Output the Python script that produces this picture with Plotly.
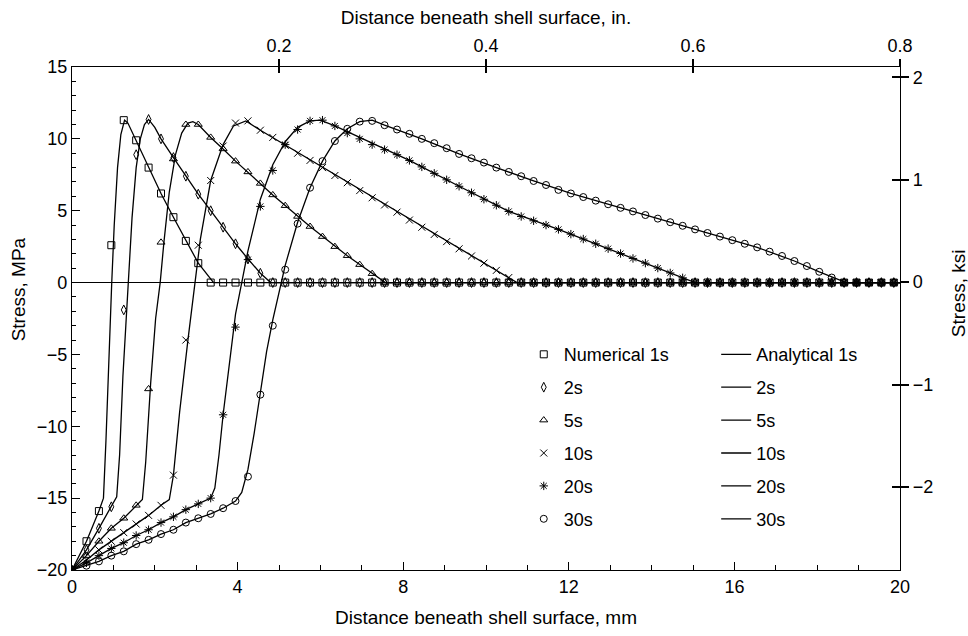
import plotly.graph_objects as go

# Distance grid of numerical points (mm)
xg = [0, 0.35, 0.65, 0.95, 1.25, 1.55, 1.85, 2.15, 2.45, 2.75, 3.05, 3.35, 3.65, 3.95, 4.25,
      4.55, 4.85, 5.15, 5.45, 5.75, 6.05, 6.35, 6.65, 6.95, 7.25, 7.55, 7.85, 8.15, 8.45, 8.75,
      9.05, 9.35, 9.65, 9.95, 10.25, 10.55, 10.85, 11.15, 11.45, 11.75, 12.05, 12.35, 12.65,
      12.95, 13.25, 13.55, 13.85, 14.15, 14.45, 14.75, 15.05, 15.35, 15.65, 15.95, 16.25,
      16.55, 16.85, 17.15, 17.45, 17.75, 18.05, 18.35, 18.65, 18.95, 19.25, 19.55, 19.85]

num_1s = [-20, -18.0, -15.9, 2.6, 11.3, 9.9, 8.0, 6.2, 4.55, 2.9, 1.35, 0,
          0, 0, 0, 0, 0, 0, 0, 0, 0, 0, 0, 0, 0, 0, 0, 0, 0, 0, 0, 0, 0, 0, 0, 0, 0, 0, 0, 0,
          0, 0, 0, 0, 0, 0, 0, 0, 0, 0, 0, 0, 0, 0, 0, 0, 0, 0, 0, 0, 0, 0, 0, 0, 0, 0, 0]
num_2s = [-20, -18.6, -17.1, -15.6, -1.9, 8.9, 11.35, 10.0, 8.7, 7.4, 6.15, 5.0, 3.85, 2.7,
          1.65, 0.65, 0,
          0, 0, 0, 0, 0, 0, 0, 0, 0, 0, 0, 0, 0, 0, 0, 0, 0, 0, 0, 0, 0, 0, 0, 0, 0, 0, 0, 0,
          0, 0, 0, 0, 0, 0, 0, 0, 0, 0, 0, 0, 0, 0, 0, 0, 0, 0, 0, 0, 0, 0]
num_5s = [-20, -19.0, -18.0, -17.1, -16.4, -15.5, -7.4, 2.8, 8.6, 11.0, 11.0, 10.1, 9.3, 8.45,
          7.7, 6.9, 6.1, 5.35, 4.6, 3.9, 3.2, 2.5, 1.87, 1.25, 0.62, 0,
          0, 0, 0, 0, 0, 0, 0, 0, 0, 0, 0, 0, 0, 0, 0, 0, 0, 0, 0, 0, 0, 0, 0, 0, 0, 0, 0, 0,
          0, 0, 0, 0, 0, 0, 0, 0, 0, 0, 0, 0, 0]
num_10s = [-20, -19.3, -18.6, -18.0, -17.4, -16.8, -16.2, -15.5, -13.4, -4.0, 2.6, 7.1, 9.5,
           11.1, 11.25, 10.6, 10.1, 9.55, 9.0, 8.5, 8.0, 7.45, 6.95, 6.4, 5.9, 5.4, 4.9, 4.35,
           3.85, 3.35, 2.85, 2.35, 1.85, 1.35, 0.85, 0.35, 0,
           0, 0, 0, 0, 0, 0, 0, 0, 0, 0, 0, 0, 0, 0, 0, 0, 0, 0, 0, 0, 0, 0, 0, 0, 0, 0, 0, 0,
           0, 0]
num_20s = [-20, -19.5, -19.0, -18.5, -18.1, -17.6, -17.2, -16.7, -16.3, -15.8, -15.4, -15.0,
           -9.2, -3.1, 1.6, 5.3, 7.8, 9.6, 10.65, 11.25, 11.3, 10.9, 10.4, 10.0, 9.6, 9.25, 8.9,
           8.5, 8.05, 7.6, 7.15, 6.7, 6.25, 5.8, 5.38, 4.95, 4.6, 4.3, 4.0, 3.7, 3.37, 3.03, 2.7,
           2.36, 2.02, 1.68, 1.35, 1.01, 0.67, 0.33, 0,
           0, 0, 0, 0, 0, 0, 0, 0, 0, 0, 0, 0, 0, 0, 0, 0]
num_30s = [-20, -19.7, -19.4, -19.0, -18.7, -18.2, -17.9, -17.5, -17.2, -16.7, -16.4, -16.1,
           -15.7, -15.2, -13.5, -7.8, -3.0, 0.9, 4.1, 6.6, 8.45, 9.85, 10.7, 11.2, 11.25, 10.95,
           10.65, 10.35, 10.0, 9.7, 9.35, 8.95, 8.65, 8.35, 8.0, 7.7, 7.4, 7.07, 6.79, 6.45, 6.2,
           5.95, 5.7, 5.45, 5.2, 4.95, 4.7, 4.45, 4.2, 3.95, 3.7, 3.45, 3.2, 2.95, 2.7, 2.45,
           2.15, 1.85, 1.5, 1.15, 0.75, 0.35, 0,
           0, 0, 0, 0]

# Analytical curves
ana_1s_x = [0, 0.35, 0.65, 0.76, 0.82, 0.89, 0.96, 1.02, 1.1, 1.18, 1.27, 1.35, 1.45, 1.55,
            1.85, 2.15, 2.45, 2.75, 3.05, 3.42, 20]
ana_1s_y = [-20, -18.0, -15.9, -15.0, -11, -5, 0, 4, 8, 10.3, 11.3, 11.1, 10.5, 9.9,
            8.0, 6.2, 4.55, 2.9, 1.35, 0, 0]
ana_2s_x = [0, 0.35, 0.65, 0.95, 1.08, 1.15, 1.23, 1.3, 1.36, 1.45, 1.55, 1.65, 1.75, 1.85,
            2.0, 2.15, 2.45, 2.75, 3.05, 3.35, 3.65, 3.95, 4.25, 4.55, 4.8, 20]
ana_2s_y = [-20, -18.6, -17.1, -15.6, -14.9, -12, -6.5, -3, 0, 4.5, 8.0, 10.0, 11.0, 11.35,
            10.8, 10.0, 8.7, 7.4, 6.15, 5.0, 3.85, 2.7, 1.65, 0.65, 0, 0]
ana_5s_x = [0, 0.35, 0.65, 0.95, 1.25, 1.55, 1.7, 1.78, 1.9, 2.02, 2.13, 2.22, 2.35, 2.5,
            2.65, 2.8, 2.92, 3.05, 3.35, 3.65, 3.95, 4.85, 5.75, 6.65, 7.57, 20]
ana_5s_y = [-20, -19.0, -18.0, -17.1, -16.4, -15.5, -15.1, -12.5, -7, -2.5, 0, 2.8, 6.3, 8.9,
            10.4, 11.1, 11.2, 11.0, 10.1, 9.3, 8.45, 6.1, 3.9, 1.87, 0, 0]
ana_10s_x = [0, 0.35, 0.65, 0.95, 1.25, 1.55, 1.85, 2.15, 2.35, 2.45, 2.6, 2.8, 2.97, 3.1,
             3.35, 3.65, 3.9, 4.2, 4.55, 10.75, 20]
ana_10s_y = [-20, -19.3, -18.6, -18.0, -17.4, -16.8, -16.2, -15.5, -15.1, -13.4, -9, -4, 0, 3,
             7.1, 9.6, 10.9, 11.25, 10.6, 0, 0]
ana_20s_x = [0, 0.35, 0.65, 0.95, 1.25, 1.55, 1.85, 2.15, 2.45, 2.75, 3.05, 3.35, 3.45, 3.55,
             3.65, 3.8, 3.95, 4.1, 4.25, 4.55, 4.85, 5.15, 5.45, 5.75, 6.0, 6.35, 8.15, 9.35,
             10.55, 11.75, 13.25, 15.05, 20]
ana_20s_y = [-20, -19.5, -19.0, -18.5, -18.1, -17.6, -17.2, -16.7, -16.3, -15.8, -15.4, -15.0,
             -14.3, -12, -9.2, -5.5, -2.2, 0, 2.2, 5.8, 8.2, 9.8, 10.8, 11.25, 11.3, 10.9, 8.5,
             6.7, 4.95, 3.7, 2.02, 0, 0]
ana_30s_x = [0, 0.35, 0.65, 0.95, 1.25, 1.55, 1.85, 2.15, 2.45, 2.75, 3.05, 3.35, 3.65, 3.95,
             4.1, 4.25, 4.4, 4.55, 4.7, 4.85, 5.0, 5.15, 5.45, 5.75, 6.05, 6.35, 6.65, 6.95,
             7.25, 7.55, 8.45, 9.35, 10.25, 11.15, 12.05, 13.55, 15.05, 16.55, 17.45, 18.05,
             18.7, 20]
ana_30s_y = [-20, -19.7, -19.4, -19.0, -18.7, -18.2, -17.9, -17.5, -17.2, -16.7, -16.4, -16.1,
             -15.7, -15.2, -14.6, -13, -10.5, -7.5, -4.8, -2.6, -0.6, 1.2, 4.2, 6.6, 8.45, 9.85,
             10.7, 11.2, 11.3, 10.95, 10.0, 8.95, 8.0, 7.07, 6.2, 4.95, 3.7, 2.45, 1.5, 0.75, 0,
             0]

num_names = ["Numerical 1s", "2s", "5s", "10s", "20s", "30s"]
ana_names = ["Analytical 1s", "2s", "5s", "10s", "20s", "30s"]
num_series = [num_1s, num_2s, num_5s, num_10s, num_20s, num_30s]
ana_series = [(ana_1s_x, ana_1s_y), (ana_2s_x, ana_2s_y), (ana_5s_x, ana_5s_y),
              (ana_10s_x, ana_10s_y), (ana_20s_x, ana_20s_y), (ana_30s_x, ana_30s_y)]
symbols = ["square-open", "diamond-tall-open", "triangle-up-open", "x-thin-open",
           "asterisk-open", "circle-open"]

# secondary scales: inches on top, ksi on right
in_ticks = [0.2, 0.4, 0.6, 0.8]
in_range = [0, 0.8]
ksi_ticks = [-2, -1, 0, 1, 2]
ksi_range = [-2.81, 2.10]

FONT = "Liberation Sans, Arial, Helvetica, sans-serif"
TS = 18   # tick / legend text size
TT = 19   # axis title size
fig = go.Figure()

for i, (ax, ay) in enumerate(ana_series):
    fig.add_trace(go.Scatter(x=ax, y=ay, mode="lines", name=ana_names[i],
                             line=dict(color="black", width=1.3),
                             legend="legend2", legendgroup="a%d" % i))
for i, ys in enumerate(num_series):
    fig.add_trace(go.Scatter(x=xg, y=ys, mode="markers", name=num_names[i],
                             marker=dict(symbol=symbols[i], size=7, color="black",
                                         line=dict(color="black", width=1)),
                             legend="legend", legendgroup="n%d" % i))

# empty traces so that the secondary (inch / ksi) axes are drawn
fig.add_trace(go.Scatter(x=[None], y=[None], xaxis="x2", yaxis="y2", showlegend=False,
                         hoverinfo="skip"))
fig.add_trace(go.Scatter(x=[None], y=[None], xaxis="x3", yaxis="y3", showlegend=False,
                         hoverinfo="skip"))

tick_font = dict(family=FONT, size=TS, color="black")
fig.update_layout(
    width=968, height=636,
    margin=dict(l=72, r=68, t=67, b=64),
    paper_bgcolor="white", plot_bgcolor="white",
    font=dict(family=FONT, size=TS, color="black"),
    showlegend=True,
    xaxis=dict(range=[0, 20], tickvals=[0, 4, 8, 12, 16, 20], ticks="inside", ticklen=8,
               tickwidth=1, tickcolor="black", showline=True, linecolor="black",
               linewidth=1.2, showgrid=False, zeroline=False, tickfont=tick_font,
               minor=dict(dtick=1, ticks="inside", ticklen=5, tickcolor="black"),
               title=dict(text="Distance beneath shell surface, mm",
                          font=dict(family=FONT, size=TT), standoff=14)),
    yaxis=dict(range=[-20, 15], dtick=5, ticks="inside", ticklen=8, tickcolor="black",
               showline=True, linecolor="black", linewidth=1.2, showgrid=False,
               zeroline=True, zerolinecolor="black", zerolinewidth=1.2, tickfont=tick_font,
               minor=dict(dtick=1, ticks="inside", ticklen=4, tickcolor="black")),
    xaxis2=dict(overlaying="x", anchor="y2", side="top", range=in_range, tickvals=in_ticks,
                ticktext=["0.2", "0.4", "0.6", "0.8"], ticks="outside", ticklen=7,
                tickwidth=2, tickcolor="black", showline=True, linecolor="black",
                linewidth=1.2, showgrid=False, zeroline=False, tickfont=tick_font,
                title=dict(text="Distance beneath shell surface, in.",
                           font=dict(family=FONT, size=TT), standoff=6)),
    xaxis3=dict(overlaying="x", anchor="y3", side="top", range=in_range, tickvals=in_ticks,
                ticks="inside", ticklen=6, tickwidth=2, tickcolor="black",
                showticklabels=False, showline=False, showgrid=False, zeroline=False),
    yaxis2=dict(overlaying="y", anchor="x2", side="right", range=ksi_range,
                tickvals=ksi_ticks, ticks="outside", ticklen=8, tickwidth=2,
                tickcolor="black", showline=True, linecolor="black", linewidth=1.2,
                showgrid=False, zeroline=False, tickfont=tick_font),
    yaxis3=dict(overlaying="y", anchor="x3", side="right", range=ksi_range,
                tickvals=[-2, -1, 1, 2], ticks="inside", ticklen=8, tickwidth=2,
                tickcolor="black", showticklabels=False, showline=False, showgrid=False,
                zeroline=False),
    legend=dict(x=0.5456, y=0.465, xanchor="left", yanchor="top", bgcolor="rgba(0,0,0,0)",
                font=dict(family=FONT, size=TS), tracegroupgap=6.5, traceorder="grouped"),
    legend2=dict(x=0.778, y=0.465, xanchor="left", yanchor="top", bgcolor="rgba(0,0,0,0)",
                 font=dict(family=FONT, size=TS), tracegroupgap=6.5, traceorder="grouped"),
    annotations=[
        dict(text="Stress, MPa", xref="paper", yref="paper", x=-0.0652, y=0.558,
             xanchor="center", yanchor="middle", textangle=-90, showarrow=False,
             font=dict(family=FONT, size=TT)),
        dict(text="Stress, ksi", xref="paper", yref="paper", x=1.071, y=0.55,
             xanchor="center", yanchor="middle", textangle=-90, showarrow=False,
             font=dict(family=FONT, size=TT)),
    ],
)

fig.write_html("out.html")
